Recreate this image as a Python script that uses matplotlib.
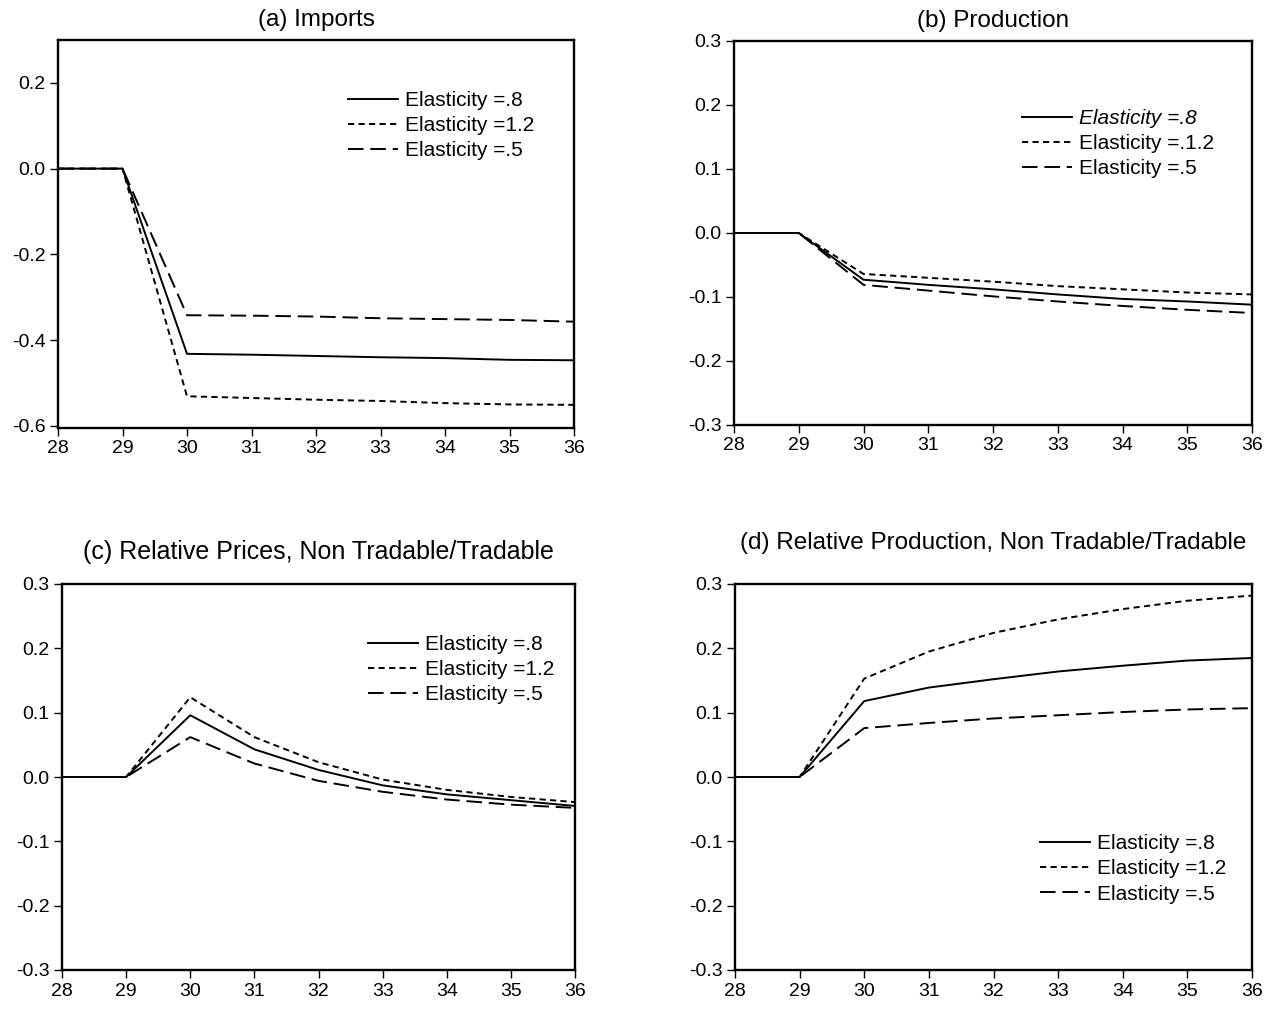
import matplotlib
matplotlib.use("Agg")
import matplotlib.pyplot as plt

plt.rcParams['font.family'] = ['Liberation Sans', 'DejaVu Sans']

years = [28, 29, 30, 31, 32, 33, 34, 35, 36]
xticks = [28, 29, 30, 31, 32, 33, 34, 35, 36]
labels = ["Elasticity =.8", "Elasticity =1.2", "Elasticity =.5"]
labels_b = ["Elasticity =.8", "Elasticity =.1.2", "Elasticity =.5"]

imports_08 = [0, 0, -0.432, -0.434, -0.437, -0.440, -0.442, -0.446, -0.447]
imports_12 = [0, 0, -0.531, -0.535, -0.539, -0.542, -0.547, -0.550, -0.551]
imports_05 = [0, 0, -0.342, -0.343, -0.345, -0.349, -0.351, -0.353, -0.357]

prod_08 = [0, 0, -0.073, -0.081, -0.088, -0.096, -0.103, -0.107, -0.112]
prod_12 = [0, 0, -0.064, -0.070, -0.076, -0.083, -0.088, -0.093, -0.096]
prod_05 = [0, 0, -0.081, -0.090, -0.099, -0.107, -0.114, -0.120, -0.125]

rprice_08 = [0, 0, 0.096, 0.043, 0.011, -0.013, -0.027, -0.036, -0.045]
rprice_12 = [0, 0, 0.124, 0.062, 0.023, -0.004, -0.020, -0.031, -0.039]
rprice_05 = [0, 0, 0.062, 0.021, -0.006, -0.023, -0.035, -0.043, -0.048]

rprod_08 = [0, 0, 0.118, 0.139, 0.152, 0.164, 0.173, 0.181, 0.185]
rprod_12 = [0, 0, 0.153, 0.195, 0.224, 0.245, 0.261, 0.274, 0.282]
rprod_05 = [0, 0, 0.076, 0.084, 0.091, 0.096, 0.101, 0.105, 0.107]

titles = ["(a) Imports", "(b) Production",
          "(c) Relative Prices, Non Tradable/Tradable",
          "(d) Relative Production, Non Tradable/Tradable"]

W, H = 1278, 1010
fig = plt.figure(figsize=(W / 100, H / 100), dpi=100)

rects = [
    [58/W, 1-428/H, 516/W, 388/H],
    [734/W, 1-425/H, 518/W, 384/H],
    [62/W, 1-970/H, 513/W, 386/H],
    [735/W, 1-970/H, 517/W, 386/H],
]
data = [
    (imports_08, imports_12, imports_05),
    (prod_08, prod_12, prod_05),
    (rprice_08, rprice_12, rprice_05),
    (rprod_08, rprod_12, rprod_05),
]
ylims = [(-0.605, 0.3), (-0.3, 0.3), (-0.3, 0.3), (-0.3, 0.3)]
yticks = [[-0.6, -0.4, -0.2, 0.0, 0.2],
          [-0.3, -0.2, -0.1, 0.0, 0.1, 0.2, 0.3],
          [-0.3, -0.2, -0.1, 0.0, 0.1, 0.2, 0.3],
          [-0.3, -0.2, -0.1, 0.0, 0.1, 0.2, 0.3]]
# legend upper-left corner (handle start, top of first row) in pixels
leg_pos = [(348, 91), (1022, 109), (368, 635), (1040, 834)]
title_pad = [10, 10, 18, 25]
title_size = [17.5, 17.5, 18, 17.5]
leg_labels = [labels, labels_b, labels, labels]

styles = ['-', (0, (3.2, 2.2)), (0, (8, 3.5))]

for i in range(4):
    ax = fig.add_axes(rects[i])
    for s, ys, lab in zip(styles, data[i], leg_labels[i]):
        ax.plot(years, ys, color='black', linestyle=s, linewidth=1.4, label=lab)
    ax.set_xlim(28, 36)
    ax.set_ylim(*ylims[i])
    ax.set_xticks(xticks)
    ax.set_xticklabels([str(v) for v in xticks])
    ax.set_yticks(yticks[i])
    ax.set_yticklabels([f"{v:.1f}" for v in yticks[i]])
    ax.tick_params(axis='both', direction='out', length=6, width=1.0,
                   labelsize=14, top=False, right=False, pad=3)
    for sp in ax.spines.values():
        sp.set_linewidth(1.7)
    ax.set_title(titles[i], fontsize=title_size[i], pad=title_pad[i])
    lx, ly = leg_pos[i]
    leg = ax.legend(loc='upper left', bbox_to_anchor=(lx / W, 1 - ly / H),
                    bbox_transform=fig.transFigure, frameon=False,
                    fontsize=15, handlelength=2.4, handletextpad=0.35,
                    labelspacing=0.3, borderaxespad=0, borderpad=0)
    if i == 1:
        leg.get_texts()[0].set_fontstyle('italic')

fig.savefig("out.png", dpi=100)
